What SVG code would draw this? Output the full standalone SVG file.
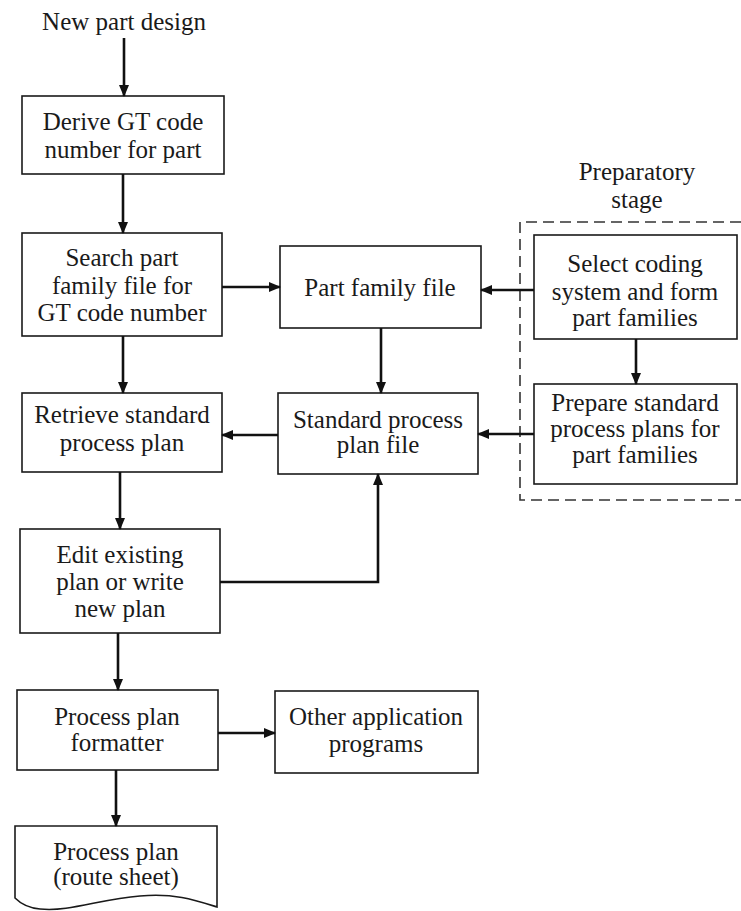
<svg xmlns="http://www.w3.org/2000/svg" width="741" height="911" viewBox="0 0 741 911">
<defs>
<style>
.box{fill:#fff;stroke:#1a1a1a;stroke-width:1.6}
.t{font-family:"Liberation Serif","Times New Roman",serif;font-size:25px;fill:#1a1a1a;text-anchor:middle}
.c{fill:none;stroke:#111;stroke-width:2.6}
.dash{fill:none;stroke:#333;stroke-width:1.6;stroke-dasharray:11,6}
</style>
<marker id="ah" viewBox="0 0 12 10" refX="11" refY="5" markerWidth="12" markerHeight="10" markerUnits="userSpaceOnUse" orient="auto">
<path d="M0,0 L12,5 L0,10 Z" fill="#111"/>
</marker>
</defs>
<rect width="741" height="911" fill="#fff"/>

<g id="title"><text class="t" x="124" y="30">New part design</text></g>

<g id="prep-label">
<text class="t" x="637" y="180">Preparatory</text>
<text class="t" x="637" y="208">stage</text>
</g>
<g id="prep-stage"><path class="dash" d="M741,222 H520 V500 H741"/></g>

<g id="derive"><rect class="box" x="22" y="96" width="202" height="78"/>
<text class="t" x="123" y="130">Derive GT code</text>
<text class="t" x="123" y="158">number for part</text></g>

<g id="search"><rect class="box" x="22" y="233" width="200" height="103"/>
<text class="t" x="122" y="266">Search part</text>
<text class="t" x="122" y="294">family file for</text>
<text class="t" x="122" y="321">GT code number</text></g>

<g id="retrieve"><rect class="box" x="22" y="393" width="200" height="79"/>
<text class="t" x="122" y="423">Retrieve standard</text>
<text class="t" x="122" y="451">process plan</text></g>

<g id="edit"><rect class="box" x="20" y="529" width="200" height="104"/>
<text class="t" x="120" y="563">Edit existing</text>
<text class="t" x="120" y="590">plan or write</text>
<text class="t" x="120" y="617">new plan</text></g>

<g id="formatter"><rect class="box" x="17" y="690" width="201" height="80"/>
<text class="t" x="117" y="725">Process plan</text>
<text class="t" x="117" y="751">formatter</text></g>

<g id="other"><rect class="box" x="275" y="691" width="203" height="82"/>
<text class="t" x="376" y="725">Other application</text>
<text class="t" x="376" y="752">programs</text></g>

<g id="routesheet"><path class="box" d="M15,826 H217 V907 C195,900 175,893 140,896 C100,899 70,912 40,909 C28,908 20,903 15,898 Z"/>
<text class="t" x="116" y="860">Process plan</text>
<text class="t" x="116" y="885">(route sheet)</text></g>

<g id="partfamily"><rect class="box" x="280" y="246" width="201" height="82"/>
<text class="t" x="380" y="296">Part family file</text></g>

<g id="stdplan"><rect class="box" x="278" y="393" width="200" height="81"/>
<text class="t" x="378" y="428">Standard process</text>
<text class="t" x="378" y="453">plan file</text></g>

<g id="select"><rect class="box" x="534" y="235" width="203" height="104"/>
<text class="t" x="635" y="272">Select coding</text>
<text class="t" x="635" y="300">system and form</text>
<text class="t" x="635" y="326">part families</text></g>

<g id="prepare"><rect class="box" x="534" y="384" width="203" height="100"/>
<text class="t" x="635" y="411">Prepare standard</text>
<text class="t" x="635" y="437">process plans for</text>
<text class="t" x="635" y="463">part families</text></g>

<g id="connectors">
<line class="c" x1="124" y1="38" x2="124" y2="96" marker-end="url(#ah)"/>
<line class="c" x1="123" y1="174" x2="123" y2="233" marker-end="url(#ah)"/>
<line class="c" x1="123" y1="336" x2="123" y2="393" marker-end="url(#ah)"/>
<line class="c" x1="120" y1="472" x2="120" y2="529" marker-end="url(#ah)"/>
<line class="c" x1="118" y1="633" x2="118" y2="690" marker-end="url(#ah)"/>
<line class="c" x1="116" y1="770" x2="116" y2="826" marker-end="url(#ah)"/>
<line class="c" x1="222" y1="287" x2="280" y2="287" marker-end="url(#ah)"/>
<line class="c" x1="534" y1="290" x2="481" y2="290" marker-end="url(#ah)"/>
<line class="c" x1="381" y1="328" x2="381" y2="393" marker-end="url(#ah)"/>
<line class="c" x1="278" y1="435" x2="222" y2="435" marker-end="url(#ah)"/>
<line class="c" x1="534" y1="434" x2="478" y2="434" marker-end="url(#ah)"/>
<line class="c" x1="636" y1="339" x2="636" y2="384" marker-end="url(#ah)"/>
<path class="c" d="M220,582 H378 V474" marker-end="url(#ah)"/>
<line class="c" x1="218" y1="733" x2="275" y2="733" marker-end="url(#ah)"/>
</g>
</svg>
